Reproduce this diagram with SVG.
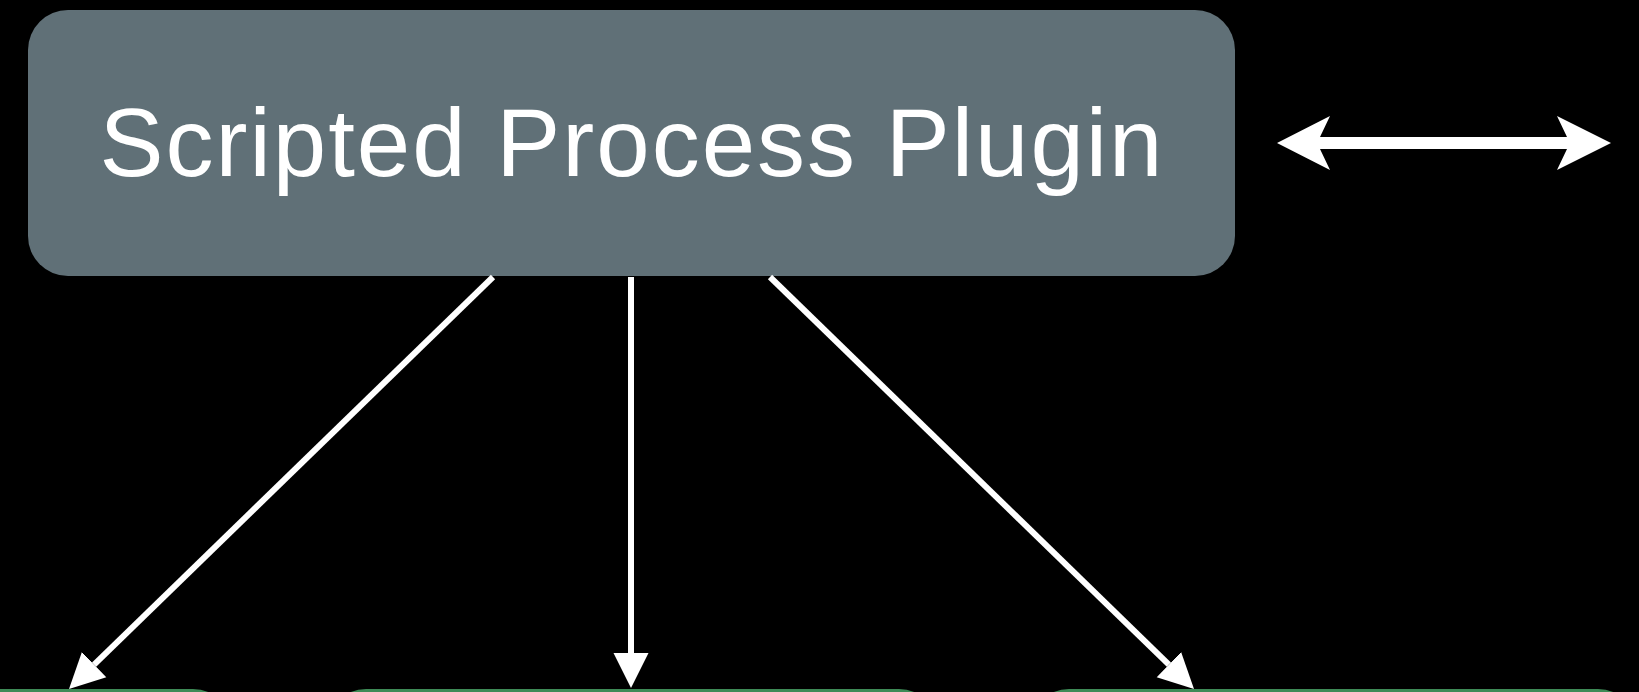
<svg xmlns="http://www.w3.org/2000/svg" width="1639" height="692" viewBox="0 0 1639 692">
  <style>
    .plugin { fill: #607077; }
    .target { fill: #3d8a56; }
    .label { fill: #ffffff; font-family: "Liberation Sans", Arial, sans-serif; font-size: 96px; }
    .link { stroke: #ffffff; stroke-width: 6; fill: none; }
    .bidir { fill: #ffffff; }
  </style>
  <defs>
    <marker id="head" markerUnits="userSpaceOnUse" markerWidth="36" markerHeight="36" viewBox="0 -18 36 36" refX="0" refY="0" orient="auto">
      <path d="M0,-17.5 L35,0 L0,17.5 z" fill="#ffffff"/>
    </marker>
  </defs>
  <rect width="1639" height="692" fill="#000000"/>

  <!-- top node -->
  <g id="scripted-process-plugin">
    <rect class="plugin" x="28" y="10" width="1207" height="266" rx="40" ry="40"/>
    <text class="label" x="631" y="176" text-anchor="middle" textLength="1063" lengthAdjust="spacing">Scripted Process Plugin</text>
  </g>

  <!-- lower nodes, only their top edges are in view -->
  <g id="target-left">
    <rect class="target" x="-380" y="689" width="613" height="120" rx="40" ry="40"/>
  </g>
  <g id="target-middle">
    <rect class="target" x="326" y="689" width="613" height="120" rx="40" ry="40"/>
  </g>
  <g id="target-right">
    <rect class="target" x="1029" y="689" width="609" height="120" rx="40" ry="40"/>
  </g>

  <!-- connectors -->
  <g id="connectors">
    <line class="link" x1="493" y1="277" x2="94.1" y2="664.6" marker-end="url(#head)"/>
    <line class="link" x1="631" y1="277" x2="631" y2="653" marker-end="url(#head)"/>
    <line class="link" x1="770" y1="277" x2="1168.9" y2="664.6" marker-end="url(#head)"/>
    <polygon class="bidir" points="1277,143 1330,116 1320,137 1567,137 1557,116 1611,143 1557,170 1567,149 1320,149 1330,170"/>
  </g>
</svg>
